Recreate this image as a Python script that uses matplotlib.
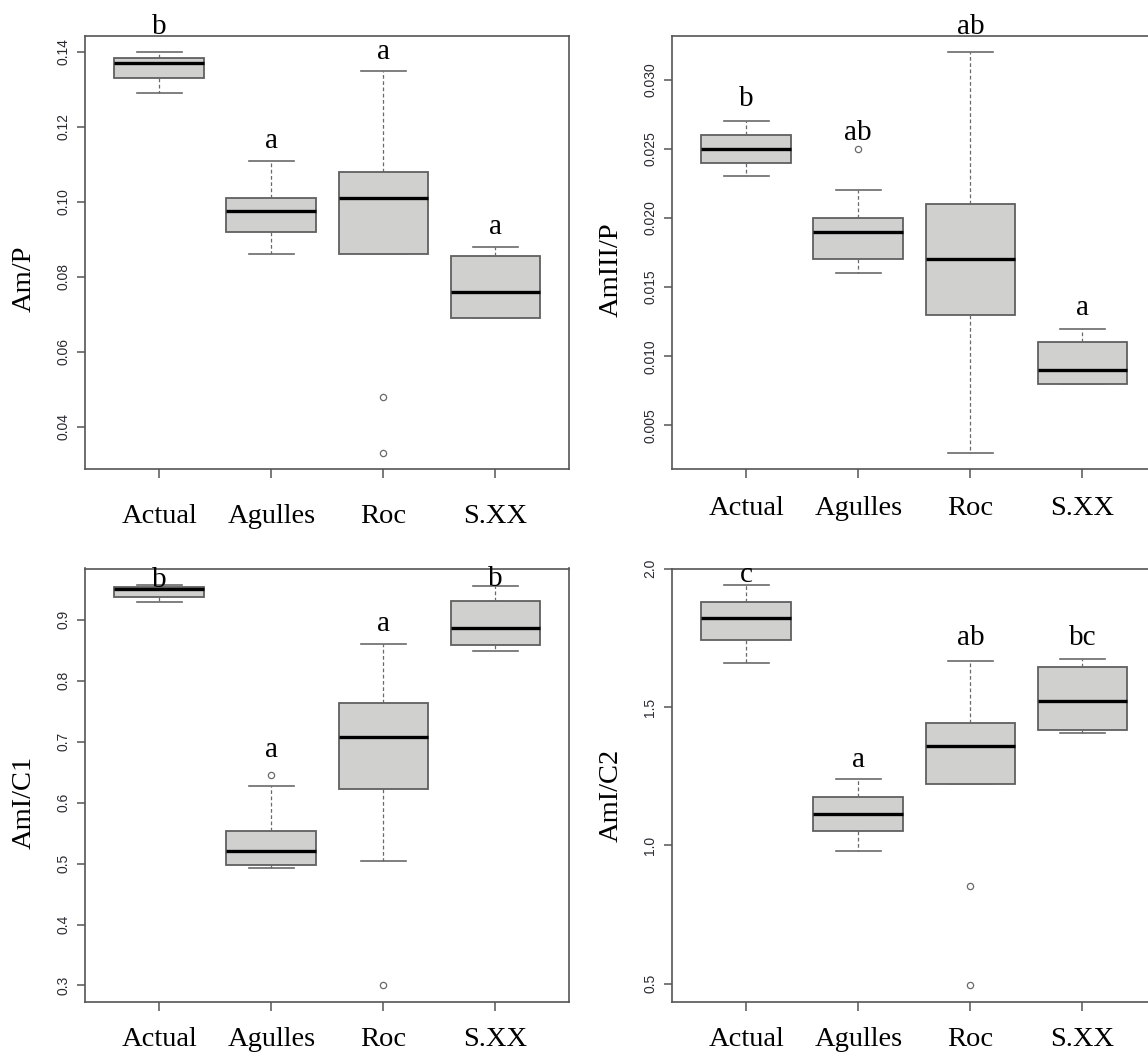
import matplotlib
matplotlib.use('Agg')
import matplotlib.pyplot as plt

# groups on the x axis
groups = ['Actual', 'Agulles', 'Roc', 'S.XX']

# Am/P  (whislo, q1, med, q3, whishi) per group
amp_whislo = [0.129, 0.086, 0.086, 0.069]
amp_q1 = [0.133, 0.092, 0.086, 0.069]
amp_med = [0.137, 0.0975, 0.101, 0.076]
amp_q3 = [0.1385, 0.101, 0.108, 0.0856]
amp_whishi = [0.140, 0.111, 0.135, 0.088]
amp_fliers = [[], [], [0.048, 0.033], []]
amp_letters = ['b', 'a', 'a', 'a']

# AmIII/P
am3_whislo = [0.023, 0.016, 0.003, 0.008]
am3_q1 = [0.024, 0.017, 0.013, 0.008]
am3_med = [0.025, 0.019, 0.017, 0.009]
am3_q3 = [0.026, 0.020, 0.021, 0.011]
am3_whishi = [0.027, 0.022, 0.032, 0.012]
am3_fliers = [[], [0.025], [], []]
am3_letters = ['b', 'ab', 'ab', 'a']

# AmI/C1
c1_whislo = [0.929, 0.492, 0.505, 0.849]
c1_q1 = [0.938, 0.498, 0.623, 0.859]
c1_med = [0.950, 0.521, 0.708, 0.887]
c1_q3 = [0.954, 0.554, 0.763, 0.931]
c1_whishi = [0.958, 0.627, 0.861, 0.956]
c1_fliers = [[], [0.646], [0.300], []]
c1_letters = ['b', 'a', 'a', 'b']

# AmI/C2
c2_whislo = [1.659, 0.980, 1.223, 1.405]
c2_q1 = [1.741, 1.053, 1.223, 1.418]
c2_med = [1.822, 1.113, 1.358, 1.521]
c2_q3 = [1.881, 1.174, 1.442, 1.646]
c2_whishi = [1.943, 1.240, 1.667, 1.675]
c2_fliers = [[], [], [0.851, 0.493], []]
c2_letters = ['c', 'a', 'ab', 'bc']

panels = [
    ('Am/P', amp_whislo, amp_q1, amp_med, amp_q3, amp_whishi, amp_fliers, amp_letters,
     [0.04, 0.06, 0.08, 0.10, 0.12, 0.14], '%.2f'),
    ('AmIII/P', am3_whislo, am3_q1, am3_med, am3_q3, am3_whishi, am3_fliers, am3_letters,
     [0.005, 0.010, 0.015, 0.020, 0.025, 0.030], '%.3f'),
    ('AmI/C1', c1_whislo, c1_q1, c1_med, c1_q3, c1_whishi, c1_fliers, c1_letters,
     [0.3, 0.4, 0.5, 0.6, 0.7, 0.8, 0.9], '%.1f'),
    ('AmI/C2', c2_whislo, c2_q1, c2_med, c2_q3, c2_whishi, c2_fliers, c2_letters,
     [0.5, 1.0, 1.5, 2.0], '%.1f'),
]

# layout / style (pixels in a 1148x1054 figure)
W, H = 1148, 1054
axes_px = [(85.3, 36), (672.3, 36), (85.3, 568.5), (672.3, 568.5)]
axw, axh = 484, 433
letter_pad = [[18, 13, 12, 13], [15, 9, 18, 14], [-2, 18, 13, 0], [3, 12, 16, 14]]
xlabel_pad = [19, 13, 12, 12]
ylabel_y = [0.44, 0.46, 0.46, 0.475]
serif = 'Liberation Serif'
edge = '#555555'

fig = plt.figure(figsize=(W / 100, H / 100), dpi=100)

for i, (ylab, wlo, q1, med, q3, whi, fl, letters, ticks, fmt) in enumerate(panels):
    x0, y0 = axes_px[i]
    ax = fig.add_axes([x0 / W, 1 - (y0 + axh) / H, axw / W, axh / H])

    stats = []
    for k, g in enumerate(groups):
        stats.append(dict(label=g, whislo=wlo[k], q1=q1[k], med=med[k], q3=q3[k],
                          whishi=whi[k], fliers=fl[k]))

    ax.bxp(stats, positions=[1, 2, 3, 4], widths=0.8, capwidths=0.4,
           showfliers=True, patch_artist=True,
           boxprops=dict(facecolor='#d0d1cf', edgecolor='#606060', linewidth=1.3),
           medianprops=dict(color='black', linewidth=2.4),
           whiskerprops=dict(color='#6a6a6a', linewidth=0.9, linestyle=(0, (3, 2))),
           capprops=dict(color='#6a6a6a', linewidth=1.2),
           flierprops=dict(marker='o', markerfacecolor='none', markeredgecolor='#6a6a6a',
                           markersize=4.5, markeredgewidth=0.9))

    # R-style limits: 4% padding around all values
    lo = min(min(wlo), min([v for f in fl for v in f] or [min(wlo)]))
    hi = max(max(whi), max([v for f in fl for v in f] or [max(whi)]))
    pad = 0.04 * (hi - lo)
    ax.set_ylim(lo - pad, hi + pad)
    ax.set_xlim(0.34, 4.66)

    ax.set_yticks(ticks)
    ax.set_yticklabels([fmt % t for t in ticks], rotation=90, va='center',
                       family='Liberation Sans', fontsize=10, color='#2a2a33')
    ax.set_xticks([1, 2, 3, 4])
    ax.set_xticklabels(groups, family=serif, fontsize=20.5)
    ax.tick_params(axis='y', length=6, width=1.1, color=edge, pad=5)
    ax.tick_params(axis='x', length=6.5, width=1.1, color=edge, pad=xlabel_pad[i])

    for s in ax.spines.values():
        s.set_color(edge)
        s.set_linewidth(1.2)

    ax.set_ylabel(ylab, family=serif, fontsize=20.5)
    ax.yaxis.set_label_coords(-49 / axw, ylabel_y[i])

    # significance letters above each group
    for k, lt in enumerate(letters):
        top = max([whi[k]] + fl[k])
        ax.annotate(lt, xy=(k + 1, top), xytext=(0, letter_pad[i][k]),
                    textcoords='offset pixels', ha='center', va='baseline',
                    family=serif, fontsize=21, annotation_clip=False)

fig.savefig('out.png', dpi=100)
